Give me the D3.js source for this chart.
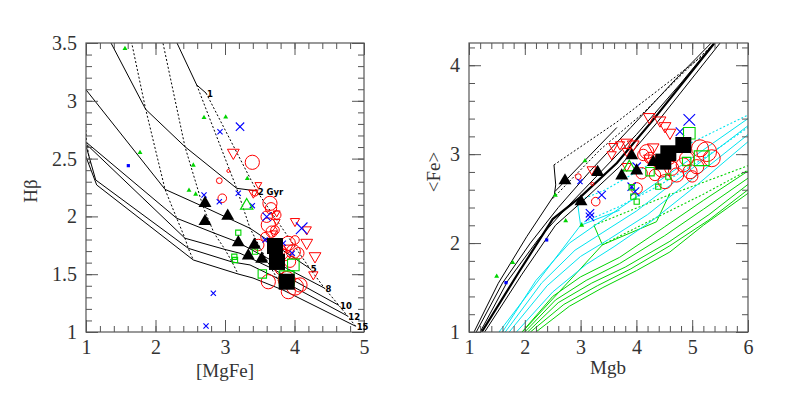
<!DOCTYPE html>
<html>
<head>
<meta charset="utf-8">
<title>Hbeta - MgFe, Fe - Mgb</title>
<script src="https://cdn.jsdelivr.net/npm/d3@7"></script>
<style>
  body { margin: 0; background: #fff; }
</style>
</head>
<body>
<script>
// ---------------- left panel: Hbeta vs [MgFe] ----------------
var mgfeTicks = [1, 2, 3, 4, 5];
var hbTicks = [1, 1.5, 2, 2.5, 3, 3.5];

// model lines of constant age (solid), labels at their last point
var ageNames = ["1", "2 Gyr", "5", "8", "10", "12", "15"];
var age1  = [[1.941,3.971],[2.593,3.137],[2.727,3.067]];
var age2  = [[1.200,3.684],[1.859,2.926],[2.424,2.603],[3.168,2.243],[3.456,2.220]];
var age5  = [[0.957,3.128],[2.137,2.234],[2.683,2.086],[3.360,1.897],[4.22,1.55]];
var age8  = [[1.010,2.638],[2.305,1.984],[2.842,1.856],[3.168,1.781],[3.576,1.649],[4.43,1.38]];
var age10 = [[1.010,2.622],[2.424,1.811],[3.000,1.714],[3.216,1.681],[3.662,1.554],[4.64,1.23]];
var age12 = [[0.990,2.632],[1.140,2.315],[2.472,1.724],[3.101,1.606],[3.360,1.580],[3.748,1.467],[4.76,1.14]];
var age15 = [[0.990,2.531],[1.154,2.272],[2.544,1.623],[3.187,1.502],[3.403,1.467],[3.835,1.363],[4.88,1.05]];
var ageLines = [age1, age2, age5, age8, age10, age12, age15];

// model lines of constant metallicity (dotted)
var metal0 = [[0.957,3.128],[1.010,2.638],[1.06,2.45]];
var metal1 = [[1.57,3.75],[1.859,2.926],[2.137,2.234],[2.305,1.984],[2.424,1.811],[2.472,1.724],[2.544,1.623]];
var metal2 = [[1.941,3.971],[2.424,2.603],[2.683,2.086],[2.842,1.856],[3.000,1.714],[3.101,1.606],[3.187,1.502]];
var metal3 = [[2.593,3.137],[3.168,2.243],[3.360,1.897],[3.576,1.649],[3.662,1.554],[3.748,1.467],[3.835,1.363]];

// observed points [MgFe, Hbeta, size]
var hbRedCircles = [[3.393,2.468,4],[2.918,2.309,1],[3.048,2.393,0],[2.961,2.157,2],[3.647,2.113,4],[3.662,2.070,3],
  [3.600,1.997,3],[3.744,2.012,2],[3.623,1.926,4],[3.672,1.868,3],[3.576,1.824,2],[3.719,1.882,2],[3.911,1.767,4],
  [3.983,1.695,4],[3.863,1.666,3],[3.935,1.608,3],[3.888,1.450,5],[4.007,1.392,5],[3.911,1.349,4],[4.079,1.407,4],
  [3.791,1.536,2],[3.816,1.709,2],[4.007,1.796,2],[4.055,1.681,3],[3.432,2.200,1],[3.479,1.753,3],[3.623,1.435,4]];
var hbRedTriangles = [[3.120,2.546,3],[3.480,2.272,1],[3.408,2.200,2],[4.007,1.954,2],[4.176,1.882,2],[4.176,1.767,3],
  [4.295,1.651,3],[4.271,1.493,2],[3.744,1.954,1],[3.911,1.724,2],[3.695,1.854,1],[3.744,2.027,1]];
var hbBlueCrosses = [[2.928,2.733,1],[3.216,2.776,2],[2.698,2.185,1],[2.918,2.127,1],[3.191,2.200,1],[3.393,2.093,1],
  [3.600,1.997,2],[4.103,1.897,3],[3.576,1.796,1],[2.832,1.335,1],[2.727,1.052,1],[3.968,1.681,1],[3.839,1.767,1]];
var hbBlueSquares = [[1.609,2.439]];
var hbGreenSmall = [[1.561,3.454],[2.698,2.857],[3.010,2.862],[1.777,2.555],[2.544,2.445],[2.482,2.228],[2.578,2.194],[3.321,2.330]];
var hbGreenSquares = [[3.191,1.859,1],[3.134,1.651,1],[3.144,1.623,1],[3.537,1.502,2],[3.983,1.580,3],[3.888,1.465,4],[3.432,1.695,1]];
var hbGreenTriangles = [[3.312,2.099]];
var hbBlackTriangles = [[2.712,2.119],[2.712,1.963],[3.039,2.010],[3.191,1.781],[3.422,1.759],[3.335,1.666],[3.528,1.638]];
var hbBlackSquares = [[3.719,1.744],[3.748,1.606],[3.888,1.435]];

// ---------------- right panel: <Fe> vs Mgb ----------------
var mgbTicks = [1, 2, 3, 4, 5, 6];
var feTicks = [1, 2, 3, 4];

// [alpha/Fe] = 0 models (black)
var blackYoung = [[1.09,1.0],[1.525,1.548],[2.034,2.072],[2.529,2.541],[2.554,2.654],[2.523,2.879]];
var blackShort = [[2.54,2.58],[3.65,3.30]];
var blackAges = [
  [[1.13,1.0],[1.6,1.55],[2.1,2.0],[2.6,2.4],[3.2,2.83],[3.9,3.3],[4.7,3.84],[5.45,4.32]],
  [[1.2,1.0],[1.7,1.58],[2.25,2.05],[2.75,2.4],[3.3,2.76],[4.0,3.22],[4.8,3.8],[5.45,4.3]],
  [[1.28,1.0],[1.95,1.65],[2.55,2.2],[3.05,2.48],[3.7,2.86],[4.35,3.34],[5.5,4.25]]
];
var blackThick = [[1.228,1.0],[1.9,1.68],[2.5,2.27],[3.0,2.52],[3.65,2.9],[4.3,3.385],[5.4,4.25]];
var blackDotted = [
  [[2.523,2.879],[3.647,3.36],[4.722,3.88],[5.3,4.16]],
  [[2.5,2.5],[3.35,3.05],[4.1,3.45],[4.9,3.95],[5.4,4.25]]
];

// [alpha/Fe] = 0.3 models (cyan)
var cyanYoung = [[1.538,1.0],[3.0,2.2],[2.94,2.47]];
var cyanShort = [[3.0,2.2],[3.7,2.37]];
var cyanAges = [
  [[1.6,1.0],[2.2,1.58],[2.8,2.0],[3.35,2.24],[4.0,2.52],[5.0,2.96],[6.0,3.40]],
  [[1.65,1.0],[2.3,1.55],[2.9,1.92],[3.4,2.12],[4.0,2.36],[5.0,2.84],[6.0,3.32]],
  [[1.72,1.0],[2.4,1.52],[3.0,1.85],[3.5,2.04],[4.2,2.32],[5.0,2.72],[6.0,3.22]],
  [[1.85,1.0],[2.5,1.45],[3.1,1.76],[3.6,1.96],[4.3,2.26],[5.1,2.66],[6.0,3.14]]
];
var cyanDotted = [
  [[2.94,2.47],[3.45,2.6],[4.5,2.98],[6.0,3.44]],
  [[3.0,2.22],[3.69,2.41],[4.36,2.63],[5.2,2.95],[6.0,3.3]]
];

// [alpha/Fe] = 0.5 models (green)
var greenYoung = [[1.955,1.0],[3.39,1.98],[3.24,2.2]];
var greenShort = [[3.39,1.98],[4.36,2.24],[4.60,2.56]];
var greenAges = [
  [[1.95,1.0],[2.5,1.4],[3.0,1.62],[3.7,1.84],[4.5,2.18],[5.2,2.48],[6.0,2.81]],
  [[2.0,1.0],[2.55,1.36],[3.1,1.58],[3.7,1.77],[4.5,2.08],[5.2,2.38],[6.0,2.73]],
  [[2.05,1.0],[2.6,1.33],[3.2,1.55],[3.8,1.73],[4.6,2.02],[5.3,2.32],[6.0,2.66]],
  [[2.1,1.0],[2.7,1.31],[3.3,1.52],[3.9,1.71],[4.6,1.97],[5.3,2.26],[6.0,2.6]],
  [[2.2,1.0],[2.8,1.29],[3.4,1.5],[4.0,1.69],[4.6,1.9],[5.2,2.2],[6.0,2.56]]
];
var greenDotted = [
  [[3.24,2.2],[4.5,2.52],[6.0,2.87]],
  [[3.39,1.98],[4.4,2.3],[5.2,2.55],[6.0,2.82]]
];

// observed points [Mgb, <Fe>, size]
var feRedCircles = [[2.959,2.747,1],[3.271,2.466,2],[3.21,2.665,0],[4.005,2.616,3],[4.095,2.785,3],[4.185,3.028,4],
  [4.124,2.991,3],[4.453,2.822,4],[4.513,2.691,4],[4.633,2.841,4],[4.840,2.879,4],[4.961,2.803,4],[5.081,2.859,4],
  [5.260,3.028,6],[5.350,2.954,5],[5.140,3.066,5],[4.722,2.766,4],[4.333,2.766,3],[4.244,2.957,3],[4.6,2.95,3],
  [4.9,2.95,4],[5.0,2.75,3],[4.4,2.9,3]];
var feRedTriangles = [[4.231,3.411,3],[4.423,3.373,3],[4.513,3.309,3],[4.602,3.235,3],[3.586,3.084,2],[3.826,3.123,3],
  [3.944,3.103,3],[3.826,3.028,2],[4.3,3.07,3],[3.557,2.991,2],[3.199,2.822,2],[3.826,2.859,2],[3.706,3.103,2],[4.213,2.954,2]];
var feBlueCrosses = [[4.948,3.385,3],[4.781,3.253,2],[4.005,2.859,2],[3.916,2.634,2],[3.378,2.541,2],[2.989,2.691,1],
  [3.168,2.335,2],[3.168,2.294,2],[3.975,2.578,2]];
var feBlueSquares = [[2.392,2.035],[1.663,1.555]];
var feGreenSmall = [[1.496,1.630],[1.783,1.784],[2.547,2.541],[2.733,2.252],[3.020,2.204],[3.079,2.927]];
var feGreenSquares = [[4.948,3.235,3],[4.244,2.803,2],[4.572,2.747,1],[4.392,2.634,1],[4.901,2.916,2],[5.170,2.954,4],
  [3.944,2.522,1],[4.005,2.466,1],[3.916,2.628,1]];
var feGreenTriangles = [[3.873,2.859]];
var feBlackTriangles = [[2.720,2.710],[3.306,2.803],[3.007,2.474],[3.737,2.766],[3.916,2.991],[4.005,2.822],[4.303,2.916]];
var feBlackSquares = [[4.572,3.010],[4.841,3.103],[4.482,2.916]];

// ---------------- drawing ----------------
var W = 789, H = 403;
var RED = "#ff0000", BLUE = "#0000ff", GREEN = "#00d400", CYAN = "#00e5f0";
var SERIF = "Liberation Serif";

var svg = d3.select("body").append("svg")
    .attr("width", W)
    .attr("height", H);

var rCircle = d3.scaleLinear().domain([0, 6]).range([1.5, 9.9]);
var aTri = d3.scaleLinear().domain([1, 3]).range([3.6, 6.2]);
var aCross = d3.scaleLinear().domain([1, 3]).range([2.6, 5.8]);
var sSquare = d3.scaleLinear().domain([1, 4]).range([5.2, 14.8]);

function makePanel(id, x0, x1, xDom, yDom) {
  var p = {};
  p.x = d3.scaleLinear().domain(xDom).range([x0, x1]);
  p.y = d3.scaleLinear().domain(yDom).range([332, 43]);
  p.g = svg.append("g").attr("id", id);
  p.g.append("clipPath").attr("id", id + "-clip")
    .append("rect")
    .attr("x", x0).attr("y", 43)
    .attr("width", x1 - x0).attr("height", 289);
  p.lines = p.g.append("g").attr("clip-path", "url(#" + id + "-clip)");
  p.line = d3.line().x(function(d){ return p.x(d[0]); }).y(function(d){ return p.y(d[1]); });
  return p;
}

function drawAxes(p, xMaj, yMaj, xStep, yStep) {
  var xd = p.x.domain(), yd = p.y.domain();
  var xMin = d3.range(xd[0], xd[1] + 1e-6, xStep);
  var yMin = d3.range(yd[0], yd[1] + 1e-6, yStep);
  var fmt = function(d){ return String(d); };
  var x0 = p.x.range()[0], x1 = p.x.range()[1];
  var yb = p.y.range()[0], yt = p.y.range()[1];

  var ax = [
    [d3.axisBottom(p.x), "translate(0," + yb + ")", xMaj, xMin, true, 8],
    [d3.axisTop(p.x), "translate(0," + yt + ")", xMaj, xMin, false, 8],
    [d3.axisLeft(p.y), "translate(" + x0 + ",0)", yMaj, yMin, true, 9],
    [d3.axisRight(p.y), "translate(" + x1 + ",0)", yMaj, yMin, false, 9]
  ];
  ax.forEach(function(a) {
    // minor ticks
    p.g.append("g").attr("transform", a[1])
      .call(a[0].tickValues(a[3]).tickSizeInner(-6).tickSizeOuter(0).tickFormat(""))
      .call(function(g){ g.select(".domain").remove(); });
    // major ticks
    var g = p.g.append("g").attr("transform", a[1])
      .call(a[0].tickValues(a[2]).tickSizeInner(-12).tickSizeOuter(0)
        .tickPadding(a[5])
        .tickFormat(a[4] ? fmt : ""));
    g.attr("font-family", SERIF).attr("font-size", 20);
    g.selectAll("text").attr("fill", "#333");
  });
  p.g.selectAll(".tick line").attr("stroke", "#555");
  p.g.append("rect")
    .attr("x", x0).attr("y", yt)
    .attr("width", x1 - x0).attr("height", yb - yt)
    .attr("fill", "none").attr("stroke", "#555").attr("stroke-width", 1.2);
  p.g.selectAll(".domain").remove();
}

function drawLines(p, list, color, width, dash) {
  p.lines.selectAll(null)
    .data(list)
    .enter()
    .append("path")
    .attr("d", p.line)
    .attr("fill", "none")
    .attr("stroke", color)
    .attr("stroke-width", width)
    .attr("stroke-dasharray", dash || null);
}

function triPath(a, down) {
  var s = down ? -1 : 1;
  return "M0," + (-a * s) + "L" + (a * 0.95) + "," + (a * 0.65 * s) + "L" + (-a * 0.95) + "," + (a * 0.65 * s) + "Z";
}
function crossPath(a) {
  return "M" + (-a) + "," + (-a) + "L" + a + "," + a + "M" + (-a) + "," + a + "L" + a + "," + (-a);
}
function squarePath(s) {
  var h = s / 2;
  return "M" + (-h) + "," + (-h) + "h" + s + "v" + s + "h" + (-s) + "Z";
}

function drawMarks(p, data, pathFn, fill, stroke, sw) {
  p.g.selectAll(null)
    .data(data)
    .enter()
    .append("path")
    .attr("transform", function(d){ return "translate(" + p.x(d[0]) + "," + p.y(d[1]) + ")"; })
    .attr("d", pathFn)
    .attr("fill", fill)
    .attr("stroke", stroke)
    .attr("stroke-width", sw);
}

function drawCircles(p, data) {
  p.g.selectAll(null)
    .data(data)
    .enter()
    .append("circle")
    .attr("cx", function(d){ return p.x(d[0]); })
    .attr("cy", function(d){ return p.y(d[1]); })
    .attr("r", function(d){ return rCircle(d[2]); })
    .attr("fill", "none")
    .attr("stroke", RED)
    .attr("stroke-width", 1);
}

function drawPoints(p, s) {
  drawMarks(p, s.greenSmall, function(){ return triPath(2.6, false); }, GREEN, "none", 0);
  drawMarks(p, s.blueSquares, function(){ return squarePath(3.2); }, BLUE, "none", 0);
  drawCircles(p, s.redCircles);
  drawMarks(p, s.redTriangles, function(d){ return triPath(aTri(d[2]), true); }, "none", RED, 1);
  drawMarks(p, s.blueCrosses, function(d){ return crossPath(aCross(d[2])); }, "none", BLUE, 1.1);
  drawMarks(p, s.greenSquares, function(d){ return squarePath(sSquare(d[2])); }, "none", GREEN, 1.1);
  drawMarks(p, s.greenTriangles, function(){ return triPath(6.5, false); }, "none", GREEN, 1.2);
  drawMarks(p, s.blackTriangles, function(){ return triPath(6.8, false); }, "#000", "none", 0);
  drawMarks(p, s.blackSquares, function(){ return squarePath(16); }, "#000", "none", 0);
}

function axisTitle(x, y, rot, label) {
  svg.append("text")
    .attr("transform", "translate(" + x + "," + y + ")" + (rot ? " rotate(-90)" : ""))
    .attr("text-anchor", "middle")
    .attr("font-family", SERIF)
    .attr("font-size", 19)
    .attr("fill", "#333")
    .text(label);
}

// ----- left panel -----
var L = makePanel("hb", 86, 364, [1, 5], [1, 3.5]);
drawAxes(L, mgfeTicks, hbTicks, 0.2, 0.1);
drawLines(L, ageLines, "#000", 1);
var metalEnds = ageLines.map(function(a){ return a[a.length - 1]; });
drawLines(L, [metal0, metal1, metal2, metal3, metalEnds], "#000", 1, "2,2");

L.g.selectAll(null)
  .data(ageLines)
  .enter()
  .append("text")
  .attr("x", function(d){ return L.x(d[d.length - 1][0]) + 1; })
  .attr("y", function(d){ return L.y(d[d.length - 1][1]) + 4; })
  .attr("font-family", "DejaVu Sans")
  .attr("font-weight", "bold")
  .attr("font-size", 8.5)
  .attr("fill", "#000")
  .text(function(d, i){ return ageNames[i]; });

drawPoints(L, {
  greenSmall: hbGreenSmall, blueSquares: hbBlueSquares, redCircles: hbRedCircles,
  redTriangles: hbRedTriangles, blueCrosses: hbBlueCrosses, greenSquares: hbGreenSquares,
  greenTriangles: hbGreenTriangles, blackTriangles: hbBlackTriangles, blackSquares: hbBlackSquares
});

axisTitle(225, 377, false, "[MgFe]");
axisTitle(37, 191, true, "Hβ");

// ----- right panel -----
var R = makePanel("fe", 469, 748, [1, 6], [1, 4.25]);
drawAxes(R, mgbTicks, feTicks, 0.2, 0.2);

drawLines(R, greenAges.concat([greenYoung, greenShort]), GREEN, 1);
drawLines(R, greenDotted, GREEN, 1.1, "2,2");
drawLines(R, cyanAges.concat([cyanYoung, cyanShort]), CYAN, 1);
drawLines(R, cyanDotted, CYAN, 1.1, "2,2");
drawLines(R, blackAges.concat([blackYoung, blackShort]), "#000", 1);
drawLines(R, [blackThick], "#000", 2.2);
drawLines(R, blackDotted, "#000", 1, "2,2");

drawPoints(R, {
  greenSmall: feGreenSmall, blueSquares: feBlueSquares, redCircles: feRedCircles,
  redTriangles: feRedTriangles, blueCrosses: feBlueCrosses, greenSquares: feGreenSquares,
  greenTriangles: feGreenTriangles, blackTriangles: feBlackTriangles, blackSquares: feBlackSquares
});

axisTitle(608, 374, false, "Mgb");
axisTitle(440, 172, true, "<Fe>");
</script>
</body>
</html>
